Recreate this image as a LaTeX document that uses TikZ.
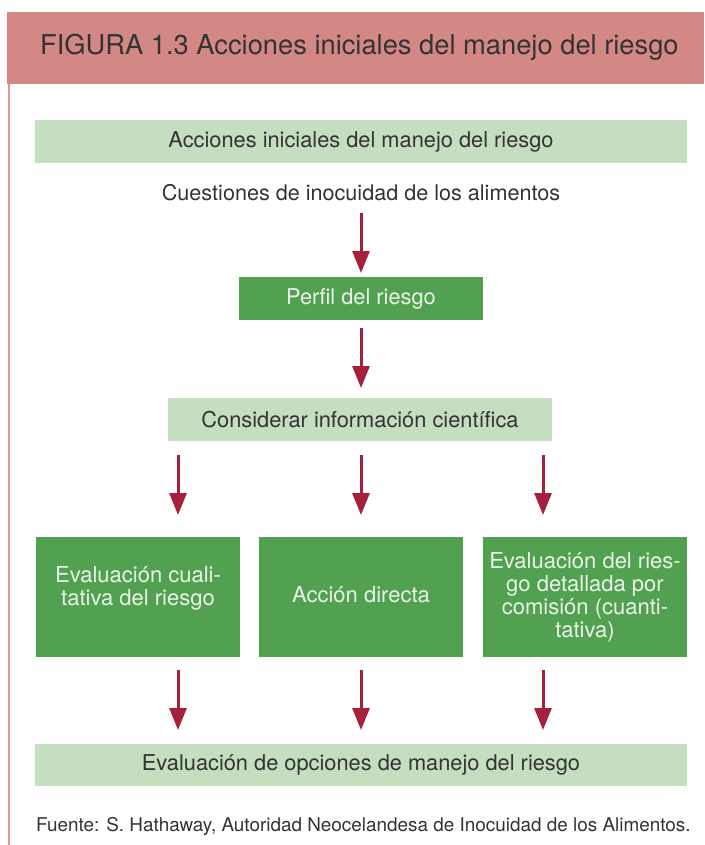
\documentclass[tikz,border=0pt]{standalone}
\usepackage{fontspec}
\setmainfont{TeX Gyre Heros}
\usetikzlibrary{arrows.meta}
\definecolor{hdr}{HTML}{D38886}
\definecolor{hline}{HTML}{D99A98}
\definecolor{lgreen}{HTML}{C5DEC0}
\definecolor{dgreen}{HTML}{51A151}
\definecolor{arrowred}{HTML}{A6203C}
\definecolor{txt}{HTML}{333333}
\definecolor{wtxt}{HTML}{EAF3E8}
\tikzset{
  lbox/.style={fill=lgreen, draw=none, inner sep=0pt, text=txt, font=\fontsize{21.8}{24}\selectfont},
  gbox/.style={fill=dgreen, draw=none, inner sep=0pt, text=wtxt, font=\fontsize{21.8}{24}\selectfont},
  plain/.style={inner sep=0pt, text=txt, font=\fontsize{21.6}{24}\selectfont},
  gtext/.style={inner sep=0pt, text=wtxt, align=center, font=\fontsize{22}{23}\selectfont},
  flow/.style={draw=arrowred, line width=3pt, -{Triangle[width=17pt,length=22pt]}},
}
\begin{document}
\begin{tikzpicture}[x=1pt,y=-1pt]
\useasboundingbox (0,0) rectangle (704,845);
% header
\fill[hdr] (7,12) rectangle (704,84);
\node[anchor=west, inner sep=0pt, text=txt, font=\fontsize{27.3}{30}\selectfont] (title) at (40,47)
  {FIGURA 1.3 Acciones iniciales del manejo del riesgo};
\draw[hline, line width=2pt] (9,84) -- (9,845);
% boxes
\node[lbox, minimum width=652pt, minimum height=43pt] (top) at (361,141.5) {Acciones iniciales del manejo del riesgo};
\node[plain] (cuest) at (361,193) {Cuestiones de inocuidad de los alimentos};
\node[gbox, minimum width=244pt, minimum height=43pt] (perfil) at (361,298.5) {Perfil del riesgo};
\node[lbox, minimum width=384pt, minimum height=43pt] (cons) at (360,419.5) {Considerar información científica};
\node[gbox, minimum width=204pt, minimum height=120pt] (b1) at (138,597) {};
\node[gtext] (t1) at (138,588) {Evaluación cuali-\\tativa del riesgo};
\node[gbox, minimum width=204pt, minimum height=120pt] (b2) at (361,597) {};
\node[gtext] (t2) at (361,595) {Acción directa};
\node[gbox, minimum width=204pt, minimum height=120pt] (b3) at (585,597) {};
\node[gtext] (t3) at (585,597) {Evaluación del ries-\\go detallada por\\comisión (cuanti-\\tativa)};
\node[lbox, minimum width=652pt, minimum height=42pt] (bot) at (361,765) {Evaluación de opciones de manejo del riesgo};
\node[anchor=west, inner sep=0pt, text=txt, font=\fontsize{18.9}{21}\selectfont] (src) at (36,826)
  {Fuente: S. Hathaway, Autoridad Neocelandesa de Inocuidad de los Alimentos.};
% arrow endpoints
\coordinate (a1s) at (361,213); \coordinate (a1e) at (361,273);
\coordinate (a2s) at (361,328); \coordinate (a2e) at (361,388);
\coordinate (a3s) at (178,455); \coordinate (a3e) at (178,515);
\coordinate (a4s) at (361,455); \coordinate (a4e) at (361,515);
\coordinate (a5s) at (543,455); \coordinate (a5e) at (543,515);
\coordinate (a6s) at (178,670); \coordinate (a6e) at (178,730);
\coordinate (a7s) at (361,670); \coordinate (a7e) at (361,730);
\coordinate (a8s) at (543,670); \coordinate (a8e) at (543,730);
\foreach \i in {1,...,8} \draw[flow] (a\i s) -- (a\i e);
\end{tikzpicture}
\end{document}
